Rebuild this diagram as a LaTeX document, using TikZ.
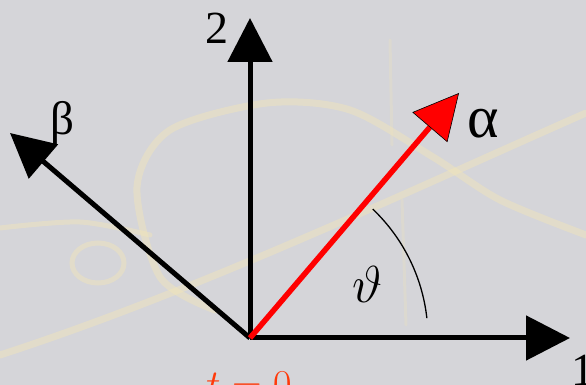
\documentclass[tikz,border=0pt]{standalone}
\usepackage{fix-cm}
\usepackage{amsmath,amssymb}
\usepackage{fontspec}
\usepackage{xcolor}
\usetikzlibrary{arrows.meta}
\newfontfamily\symfont{Liberation Serif}
\definecolor{rotBG}{HTML}{D5D5D9}
\definecolor{rotTrk}{HTML}{F2E6B8}
\definecolor{rotRed}{HTML}{FF0000}
\definecolor{rotT}{HTML}{FF3A0A}

\begin{document}
\begin{tikzpicture}[x=1pt,y=1pt,
  axis/.style={line width=5pt,-{Triangle[length=44pt,width=44pt]}},
  trk/.style={rotTrk,opacity=.45,line width=7pt,line cap=round},
  lbl/.style={inner sep=0pt}]
\def\R{178}
\clip(0,0)rectangle(586,385);
\fill[rotBG](0,0)rectangle(586,385);
% faint tracks behind
\draw[trk](0,30)..controls(200,95)and(400,190)..(586,272);
\draw[trk]plot[smooth]coordinates{(215,75)(160,108)(137,198)(170,255)(267,282)(350,275)(433,228)(500,185)(586,150)};
\draw[trk,line width=5pt]plot[smooth]coordinates{(0,157)(80,163)(150,150)};
\draw[trk,line width=5pt](98,122)ellipse(26 and 20);
\draw[trk,line width=3pt,opacity=.25](390,345)--(392,240);
\draw[trk,line width=3pt,opacity=.25](402,185)--(406,60);
% frame
\coordinate(o)at(250,47);
\coordinate(e1)at(570,47);\coordinate(e2)at(250,367);
\coordinate(ea)at(459,292);\coordinate(eb)at(10,252);
\draw[axis](o)--(e1);\draw[axis](o)--(e2);\draw[axis](o)--(eb);
\draw[line width=1.3pt](o)++(6.4:\R)arc[start angle=6.4,end angle=46.4,radius=\R];
\draw[axis,rotRed,line width=5.5pt,-{Triangle[length=45pt,width=46pt,color=black,fill=rotRed,line width=.6pt]}](o)--(ea);
\node[lbl](l2)at(217,357){\symfont\fontsize{46}{46}\selectfont 2};
\node[lbl,anchor=north](l1)at(583,30){\symfont\fontsize{46}{46}\selectfont 1};
\node[lbl](lb)at(62,262){\symfont\fontsize{47}{47}\selectfont β};
\node[lbl](la)at(483,261){\symfont\fontsize{60}{60}\selectfont α};
\node[lbl](lt)at(367,101){\fontsize{52}{52}\selectfont$\vartheta$};
\node[lbl,anchor=base west,text=rotT](t0)at(206,-14){\fontsize{41}{41}\selectfont$t=0$};
\end{tikzpicture}
\end{document}
